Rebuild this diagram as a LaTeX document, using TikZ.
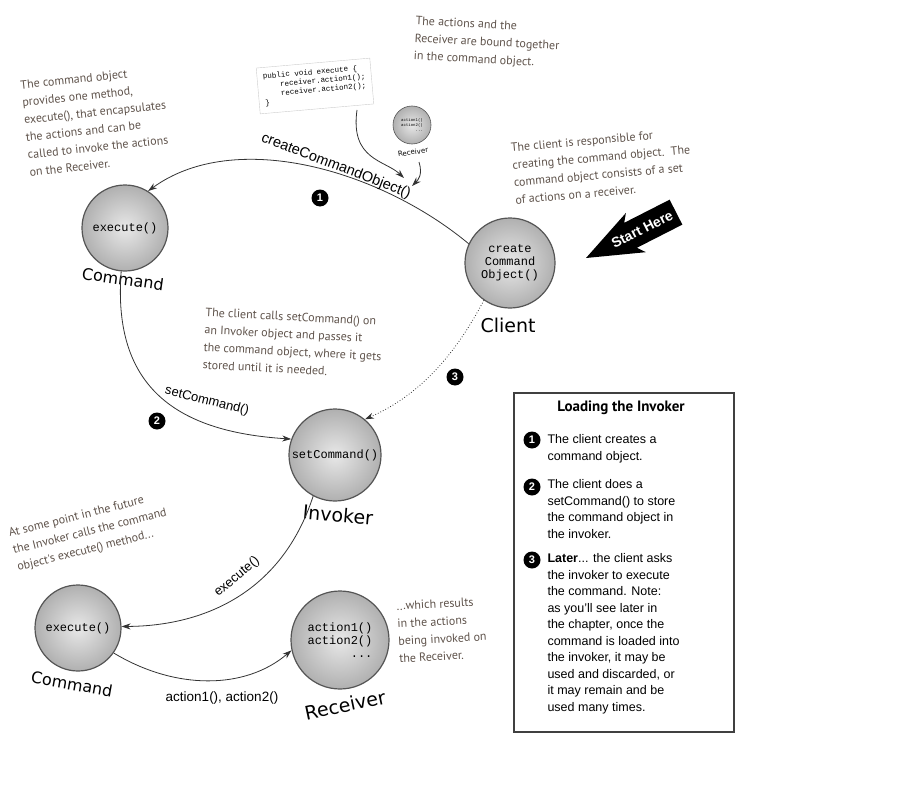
\documentclass[tikz,border=0pt]{standalone}
\usepackage{fontspec}
\setmainfont{Liberation Sans}
\setmonofont{Liberation Mono}
\newfontfamily\handfont{PT Sans}
\newfontfamily\tagfont{DejaVu Sans}
\usetikzlibrary{arrows.meta}
\definecolor{notegray}{HTML}{5E524A}
\definecolor{ballline}{HTML}{555555}

\begin{document}
\begin{tikzpicture}[
  x=1pt, y=-1pt,
  >={Stealth[length=9pt,width=6pt]},
  ball/.style={circle, draw=ballline, line width=1.2pt, inner color=gray!18, outer color=gray!62, minimum size=#1, font=\ttfamily\fontsize{12}{13}\selectfont, align=center, inner sep=0pt},
  ball/.default=86pt,
  tag/.style={font=\tagfont\fontsize{19}{20}\selectfont},
  note/.style={font=\handfont\fontsize{12}{17.5}\selectfont, text=notegray, align=left},
  method/.style={font=\fontsize{13}{14}\selectfont, inner sep=1pt},
  arrow/.style={->, thick, draw=gray!40!black},
  num/.style={circle, fill=black, text=white, inner sep=0pt, minimum size=17pt, font=\bfseries\fontsize{11}{11}\selectfont},
  item/.style={anchor=north west, align=left, font=\fontsize{12.5}{16.5}\selectfont}
]
\useasboundingbox (0,0) rectangle (900,800);

% Objects
\node[ball] (cmdtop) at (125,228) {execute()};
\node[tag, font=\tagfont\fontsize{16}{17}\selectfont, rotate=-8] (cmdtoplbl) at (123,279) {Command};
\node[ball=90pt] (client) at (510,263) {create\\Command\\Object()};
\node[tag] (clientlbl) at (508,325) {Client};
\node[ball=92pt] (invoker) at (335,455) {setCommand()};
\node[tag, rotate=-5] (invokerlbl) at (338,515) {Invoker};
\node[ball] (cmdbot) at (78,628) {execute()};
\node[tag, font=\tagfont\fontsize{16}{17}\selectfont, rotate=-10] (cmdbotlbl) at (72,684) {Command};
\node[ball=98pt, align=left] (receiver) at (340,640) {action1()\\action2()\\\hfill...};
\node[tag, rotate=12] (receiverlbl) at (345,705) {Receiver};

% Command object contents
\node[ball=38pt, line width=0.6pt, font=\ttfamily\fontsize{4}{5}\selectfont, align=left] (rcvsmall) at (412,125) {action1()\\action2()\\\hfill...};
\node[font=\tagfont\fontsize{7}{8}\selectfont, rotate=8] (rcvsmalllbl) at (413,152) {Receiver};
\node[draw=gray!40, fill=white, rotate=5, align=left, inner sep=6pt,
      font=\ttfamily\fontsize{7.5}{9}\selectfont] (code) at (315,86)
  {public void execute \{\\\quad\ \ receiver.action1();\\\quad\ \ receiver.action2();\\\}};
\coordinate (codehook) at (357,110);
\coordinate (rcvhook) at (419,162);
\coordinate (bindpt) at (404,178);
\coordinate (bindpt2) at (412,186);

% Start Here
\begin{scope}[shift={(586,258)}, rotate=27]
  \fill[black] (0,0) -- (56,-22) -- (50,-14) -- (101,-14) -- (101,14) -- (50,14) -- (56,22) -- cycle;
  \node[text=white, font=\bfseries\fontsize{14}{14}\selectfont, rotate=27] (start) at (63,0) {Start Here};
\end{scope}

% Notes
\node[note, rotate=-3] (bindnote) at (487,43) {The actions and the\\Receiver are bound together\\in the command object.};
\node[note, rotate=6] (cmdnote) at (96,121) {The command object\\provides one method,\\execute(), that encapsulates\\the actions and can be\\called to invoke the actions\\on the Receiver.};
\node[note, rotate=5] (clientnote) at (602,166) {The client is responsible for\\creating the command object.\ \ The\\command object consists of a set\\of actions on a receiver.};
\node[note, rotate=-3] (setnote) at (293,343) {The client calls setCommand() on\\an Invoker object and passes it\\the command object, where it gets\\stored until it is needed.};
\node[note, rotate=14] (futurenote) at (90,532) {At some point in the future\\the Invoker calls the command\\object's execute() method...};
\node[note, rotate=3] (resultnote) at (442,630) {...which results\\in the actions\\being invoked on\\the Receiver.};

% Arrows
\draw[arrow] (client.155) .. controls (380,170) and (235,128) .. (cmdtop.58);
\node[method, font=\fontsize{14.5}{15}\selectfont, rotate=-21] (createlbl) at (336,166) {createCommandObject()};
\draw[arrow] (codehook) .. controls (350,160) and (385,160) .. (bindpt);
\draw[arrow] (rcvhook) .. controls (423,175) and (418,180) .. (bindpt2);
\draw[arrow] (cmdtop.-95) .. controls (112,390) and (180,432) .. (invoker.160);
\node[method, rotate=-14] (setlbl) at (207,401) {setCommand()};
\draw[arrow, dotted] (client.-125) .. controls (455,355) and (420,395) .. (invoker.50);
\draw[arrow] (invoker.-118) .. controls (282,592) and (205,626) .. (cmdbot.2);
\node[method, rotate=40] (execlbl) at (237,577) {execute()};
\draw[arrow] (cmdbot.-35) .. controls (175,690) and (245,690) .. (receiver.-168);
\node[method, font=\fontsize{13.5}{14}\selectfont] (actionlbl) at (222,698) {action1(), action2()};

% Step numbers
\node[num] (n1) at (320,198) {1};
\node[num] (n2) at (157,421) {2};
\node[num] (n3) at (455,377) {3};

% Summary box
\node[draw=gray!50!black, line width=1.5pt, minimum width=220pt, minimum height=339pt, anchor=north west] (box) at (513,392) {};
\node[font=\handfont\bfseries\fontsize{15}{16}\selectfont] (boxtitle) at (621,408) {Loading the Invoker};
\node[num] (b1) at (532,440) {1};
\node[item] (t1) at (544,431) {The client creates a\\command object.};
\node[num] (b2) at (532,487) {2};
\node[item] (t2) at (544,476) {The client does a\\setCommand() to store\\the command object in\\the invoker.};
\node[num] (b3) at (532,560) {3};
\node[item] (t3) at (544,550) {\textbf{Later}... the client asks\\the invoker to execute\\the command. Note:\\as you'll see later in\\the chapter, once the\\command is loaded into\\the invoker, it may be\\used and discarded, or\\it may remain and be\\used many times.};

\end{tikzpicture}
\end{document}
